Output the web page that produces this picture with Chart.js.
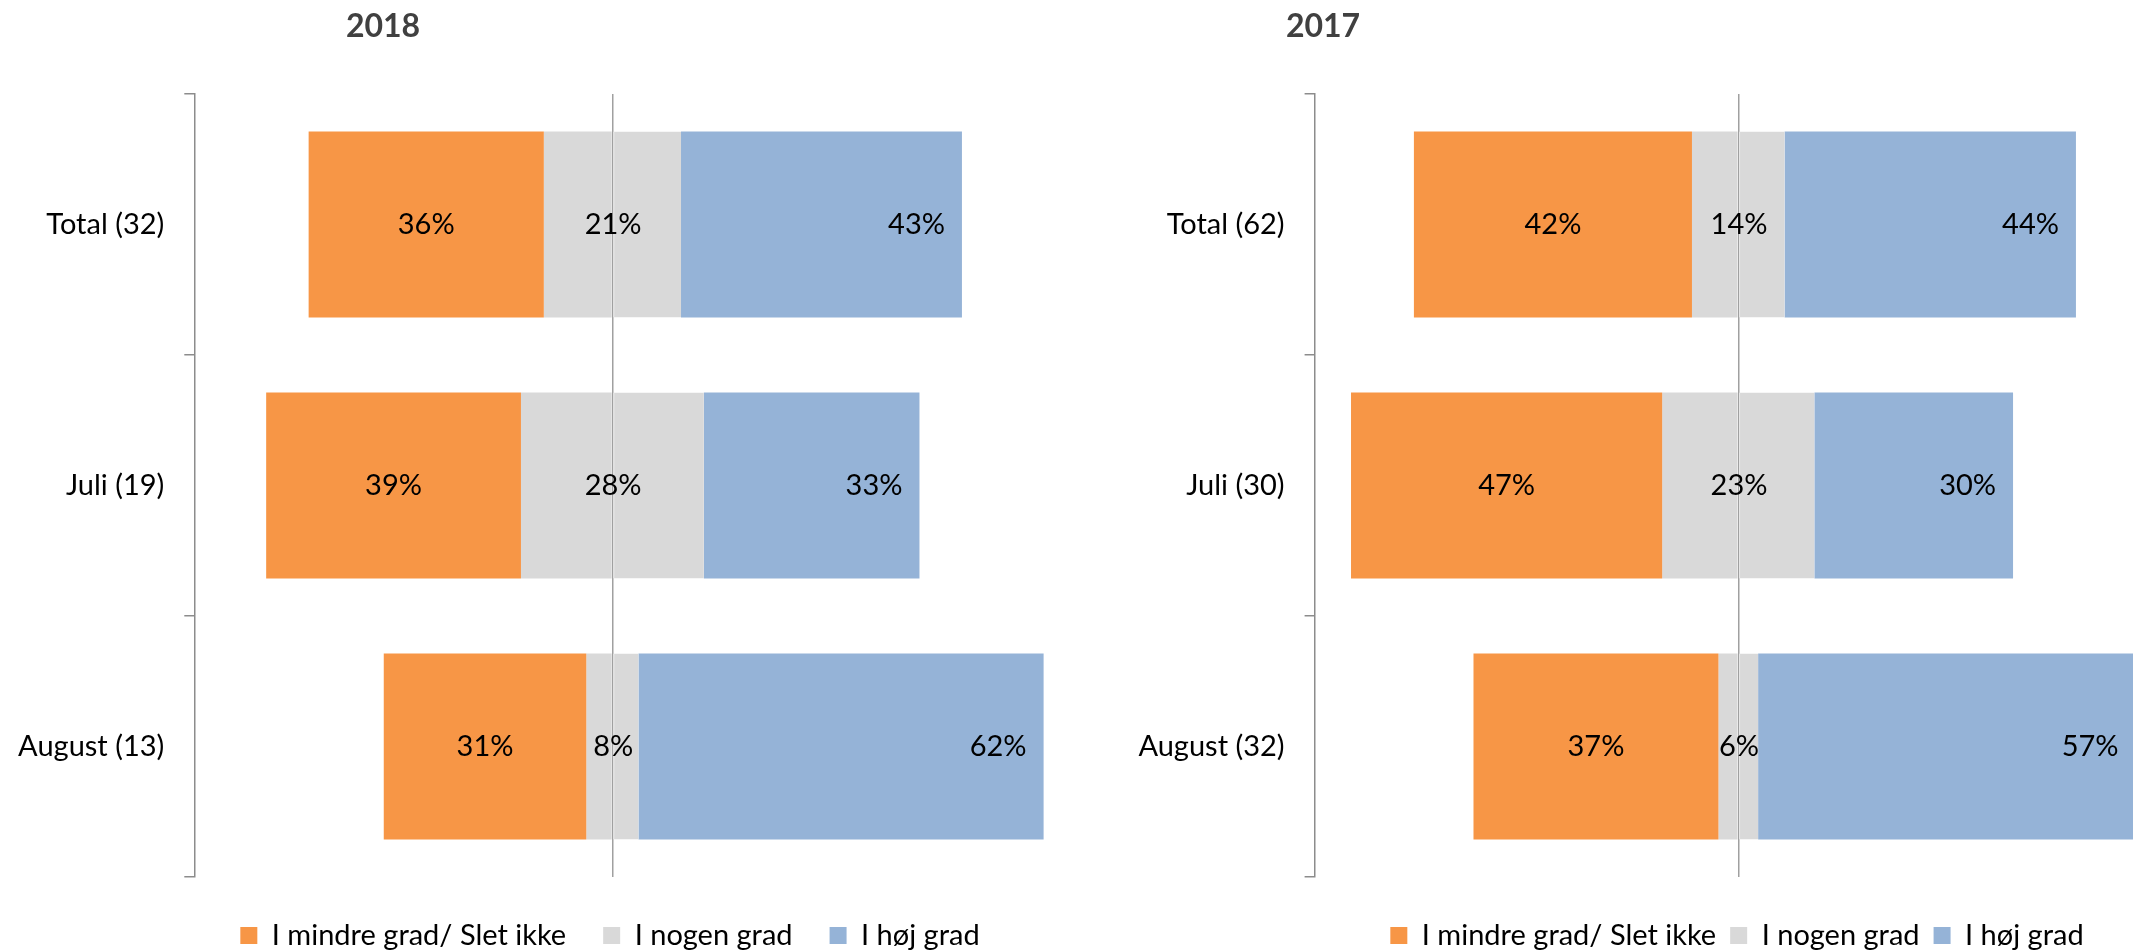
<!DOCTYPE html>
<html>
<head>
<meta charset="utf-8">
<script src="https://cdn.jsdelivr.net/npm/chart.js@4.4.1/dist/chart.umd.min.js"></script>
<style>
  html, body { margin: 0; padding: 0; width: 2133px; height: 951px; overflow: hidden; background: #fff; }
  .panel { position: absolute; top: 0; height: 960px; }
  .title { position: absolute; top: 9px; width: 200px; margin-left: -100px; text-align: center;
           font: bold 32px Lato; line-height: 32px; color: #404040; }
</style>
</head>
<body>
<div class="panel" style="left:0;width:1220px"><canvas id="c2018"></canvas></div>
<div class="panel" style="left:1120px;width:1234px"><canvas id="c2017"></canvas></div>
<div class="title" style="left:383px">2018</div>
<div class="title" style="left:1323px">2017</div>
<script>
// series names (legend)
const seriesNames = ['I mindre grad/ Slet ikke', 'I nogen grad', 'I høj grad'];

// 2018
const categories2018 = ['Total (32)', 'Juli (19)', 'August (13)'];
const low2018 = [36, 39, 31];
const mid2018 = [21, 28, 8];
const high2018 = [43, 33, 62];

// 2017
const categories2017 = ['Total (62)', 'Juli (30)', 'August (32)'];
const low2017 = [42, 47, 37];
const mid2017 = [14, 23, 6];
const high2017 = [44, 30, 57];

const colors = ['#F79646', '#D9D9D9', '#95B3D7'];
const font = { family: 'Lato', size: 29 };

// percentage labels inside the bars
const barLabels = {
  id: 'barLabels',
  afterDatasetsDraw(chart) {
    const ctx = chart.ctx;
    ctx.save();
    ctx.font = '29px Lato';
    ctx.fillStyle = '#000';
    ctx.textBaseline = 'middle';
    chart.data.datasets.forEach((ds, di) => {
      if (!ds.pct) return;
      chart.getDatasetMeta(di).data.forEach((bar, i) => {
        const txt = ds.pct[i] + '%';
        if (ds.labelPos === 'center') {
          ctx.textAlign = 'center';
          ctx.fillText(txt, (bar.x + bar.base) / 2, bar.y);
        } else if (ds.labelPos === 'base') {
          ctx.textAlign = 'center';
          ctx.fillText(txt, bar.base, bar.y);
        } else {
          ctx.textAlign = 'right';
          ctx.fillText(txt, bar.x - 17, bar.y);
        }
      });
    });
    ctx.restore();
  }
};

function makeChart(id, categories, low, mid, high, axisWidth, legendPadding, bottomGap) {
  return new Chart(document.getElementById(id), {
    type: 'bar',
    data: {
      labels: categories,
      datasets: [
        {
          label: seriesNames[0],
          data: low.map((v, i) => [-(mid[i] / 2 + v), -mid[i] / 2]),
          backgroundColor: colors[0],
          pct: low, labelPos: 'center'
        },
        {
          label: seriesNames[1],
          data: mid.map(v => [-v / 2, 0]),
          backgroundColor: colors[1]
        },
        {
          label: seriesNames[1],
          data: mid.map(v => [0, v / 2]),
          backgroundColor: colors[1],
          borderColor: 'rgba(255,255,255,0.55)',
          borderWidth: { left: 1 },
          borderSkipped: false,
          pct: mid, labelPos: 'base'
        },
        {
          label: seriesNames[2],
          data: high.map((v, i) => [mid[i] / 2, mid[i] / 2 + v]),
          backgroundColor: colors[2],
          pct: high, labelPos: 'end'
        }
      ]
    },
    options: {
      indexAxis: 'y',
      responsive: true,
      maintainAspectRatio: false,
      animation: false,
      grouped: false,
      categoryPercentage: 0.713,
      barPercentage: 1,
      layout: { padding: { top: 94, left: 0, right: 0, bottom: 0 } },
      scales: {
        x: {
          min: -64,
          max: 93,
          afterBuildTicks: s => { s.ticks = [{ value: 0 }]; },
          ticks: { display: false },
          grid: { color: '#a0a0a0', lineWidth: 1.5, tickLength: bottomGap, tickColor: 'rgba(0,0,0,0)' },
          border: { display: false }
        },
        y: {
          afterFit: s => { s.width = axisWidth; },
          grid: { drawOnChartArea: false, drawTicks: true, tickLength: 10, color: '#8c8c8c', lineWidth: 1.5 },
          border: { display: true, color: '#8c8c8c', width: 1.5 },
          ticks: { font: font, color: '#000', padding: 20 }
        }
      },
      plugins: {
        legend: {
          position: 'bottom',
          labels: {
            font: font,
            color: '#000',
            boxWidth: 17,
            boxHeight: 17,
            padding: legendPadding,
            filter: item => item.datasetIndex !== 2
          }
        },
        tooltip: { enabled: false }
      }
    },
    plugins: [barLabels]
  });
}

makeChart('c2018', categories2018, low2018, mid2018, high2018, 194.3, 37, 7);
makeChart('c2017', categories2017, low2017, mid2017, high2017, 194.6, 14, 30);
</script>
</body>
</html>
